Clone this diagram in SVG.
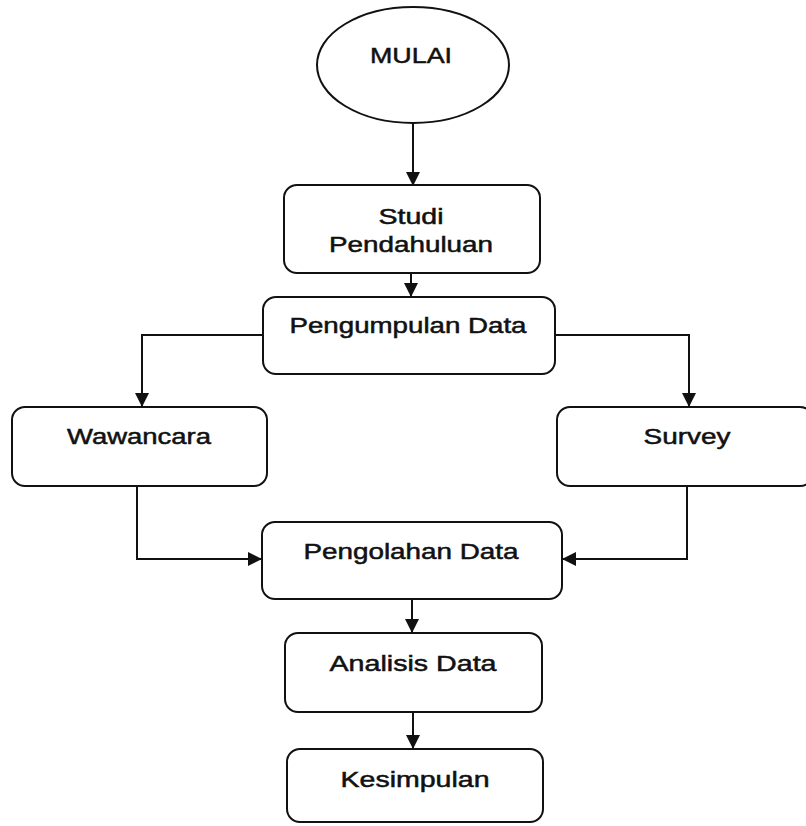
<svg xmlns="http://www.w3.org/2000/svg" width="806" height="826" viewBox="0 0 806 826">
<style>
.box{fill:#fff;stroke:#111;stroke-width:2}
.t{font-family:"Liberation Sans",Arial,sans-serif;font-size:22px;fill:#111;stroke:#111;stroke-width:0.5;text-anchor:middle}
.c{fill:none;stroke:#111;stroke-width:2}
</style>
<defs>
<marker id="ah" markerUnits="userSpaceOnUse" markerWidth="14" markerHeight="14" viewBox="0 0 10 10" refX="10" refY="5" orient="auto">
<path d="M0,0 L10,5 L0,10 z" fill="#111"/>
</marker>
</defs>
<rect width="806" height="826" fill="#fff"/>
<g id="connectors">
<path class="c" d="M413,124 V186" marker-end="url(#ah)"/>
<path class="c" d="M411,273 V297" marker-end="url(#ah)"/>
<path class="c" d="M263,335 H142 V407" marker-end="url(#ah)"/>
<path class="c" d="M555,335 H689 V407" marker-end="url(#ah)"/>
<path class="c" d="M137,486 V559 H262" marker-end="url(#ah)"/>
<path class="c" d="M687,486 V559 H562" marker-end="url(#ah)"/>
<path class="c" d="M412,599 V633" marker-end="url(#ah)"/>
<path class="c" d="M413,712 V749" marker-end="url(#ah)"/>
</g>
<g id="mulai">
<ellipse class="box" cx="413" cy="65" rx="96" ry="58"/>
<text class="t" x="411" y="63" textLength="82" lengthAdjust="spacingAndGlyphs">MULAI</text>
</g>
<g id="studi">
<rect class="box" x="284" y="185" width="256" height="88" rx="13"/>
<text class="t" x="411" y="224" textLength="65" lengthAdjust="spacingAndGlyphs">Studi</text>
<text class="t" x="411" y="252" textLength="164" lengthAdjust="spacingAndGlyphs">Pendahuluan</text>
</g>
<g id="pengumpulan">
<rect class="box" x="263" y="297" width="292" height="77" rx="13"/>
<text class="t" x="408" y="333" textLength="237" lengthAdjust="spacingAndGlyphs">Pengumpulan Data</text>
</g>
<g id="wawancara">
<rect class="box" x="12" y="407" width="255" height="79" rx="13"/>
<text class="t" x="139" y="444" textLength="144" lengthAdjust="spacingAndGlyphs">Wawancara</text>
</g>
<g id="survey">
<rect class="box" x="557" y="407" width="256" height="79" rx="13"/>
<text class="t" x="687" y="444" textLength="87" lengthAdjust="spacingAndGlyphs">Survey</text>
</g>
<g id="pengolahan">
<rect class="box" x="262" y="522" width="300" height="77" rx="13"/>
<text class="t" x="411" y="559" textLength="215" lengthAdjust="spacingAndGlyphs">Pengolahan Data</text>
</g>
<g id="analisis">
<rect class="box" x="285" y="633" width="257" height="79" rx="13"/>
<text class="t" x="413" y="671" textLength="167" lengthAdjust="spacingAndGlyphs">Analisis Data</text>
</g>
<g id="kesimpulan">
<rect class="box" x="287" y="749" width="256" height="73" rx="13"/>
<text class="t" x="415" y="787" textLength="149" lengthAdjust="spacingAndGlyphs">Kesimpulan</text>
</g>
</svg>
